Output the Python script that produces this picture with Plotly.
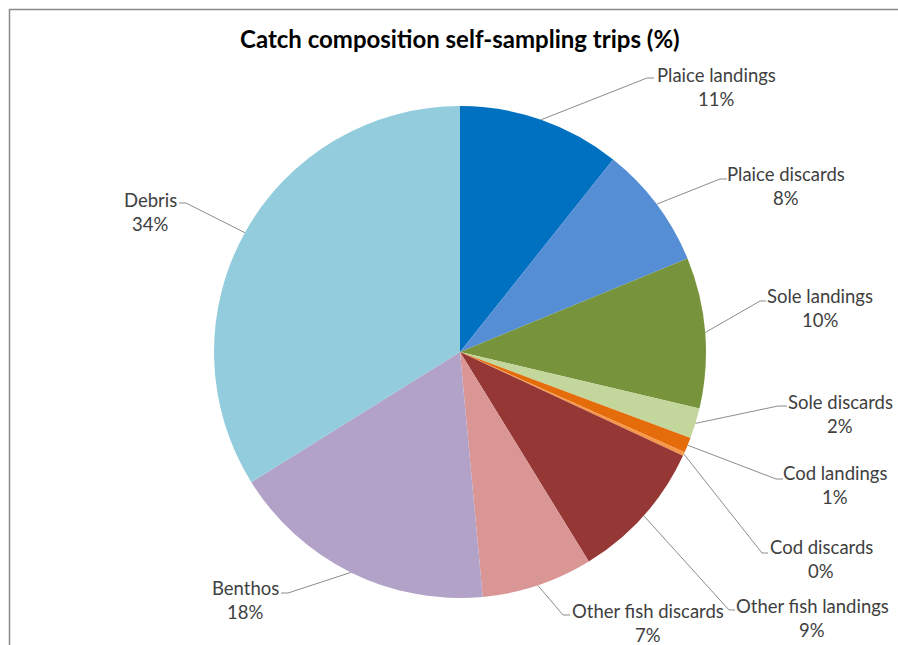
import math
import plotly.graph_objects as go

# ---- data ----
categories = ["Plaice landings", "Plaice discards", "Sole landings", "Sole discards",
              "Cod landings", "Cod discards", "Other fish landings", "Other fish discards",
              "Benthos", "Debris"]
values = [10.7, 8.1, 9.9, 2.0, 1.0, 0.25, 9.3, 7.3, 17.6, 33.9]
colors = ["#0070C0", "#558ED5", "#77933C", "#C3D69B", "#E46C0A", "#F79646",
          "#953735", "#D99694", "#B3A2C7", "#93CDDD"]
title_text = "Catch composition self-sampling trips (%)"

# ---- layout (page pixel geometry) ----
PW, PH = 898, 645      # page size
W, H = PW, PH
CX, CY, R = 460, 352, 246
# label text centre x, first-line centre y
label_x = [716, 786, 820, 840, 835, 821, 812, 648, 245, 150]
label_y = [75, 174, 296, 402, 473, 547, 606, 611, 588, 200]
# leader elbow and end points
elbow = [(647, 78), (720, 179), (760, 301), (778, 406), (776, 479), (762, 553),
         (729, 610), (563, 615), (288, 593), (186, 203)]
lead_end = [(654, 78), (727, 179), (766, 301), (787, 406), (783, 479), (768, 553),
            (735, 610), (570, 615), (281, 593), (179, 203)]
LINE_GAP = 24
LABEL_FONT = dict(family="Lato", size=18.5, color="#404040")

fig = go.Figure()
fig.add_trace(go.Pie(
    labels=categories, values=values, sort=False, direction="clockwise", rotation=0,
    marker=dict(colors=colors, line=dict(width=0)),
    textinfo="none", showlegend=False,
    domain=dict(x=[(CX - R) / W, (CX + R) / W],
                y=[(PH - CY - R) / H, (PH - CY + R) / H]),
    hovertemplate="%{label}: %{percent}<extra></extra>",
))

total = sum(values)
cum = 0.0
annotations = []
for i, (name, v) in enumerate(zip(categories, values)):
    mid = (cum + v / 2) / total
    cum += v
    ang = mid * 2 * math.pi
    sx = CX + R * math.sin(ang)
    sy = CY - R * math.cos(ang)
    ex, ey = elbow[i]
    tx, ty = lead_end[i]
    fig.add_trace(go.Scatter(x=[sx, ex, tx], y=[sy, ey, ty], mode="lines",
                             line=dict(color="#8C8C8C", width=1), hoverinfo="skip",
                             showlegend=False, xaxis="x", yaxis="y"))
    pct = round(v / total * 100)
    annotations.append(dict(x=label_x[i], y=label_y[i], xref="x", yref="y", text=name,
                            showarrow=False, xanchor="center", yanchor="middle",
                            font=LABEL_FONT))
    annotations.append(dict(x=label_x[i], y=label_y[i] + LINE_GAP, xref="x", yref="y",
                            text=f"{pct}%", showarrow=False, xanchor="center",
                            yanchor="middle", font=LABEL_FONT))

annotations.append(dict(x=460, y=38, xref="x", yref="y", text=f"<b>{title_text}</b>",
                        showarrow=False, xanchor="center", yanchor="middle",
                        font=dict(family="Lato", size=24, color="#000000")))

fig.update_layout(
    width=W, height=H, margin=dict(l=0, r=0, t=0, b=0),
    paper_bgcolor="white", plot_bgcolor="rgba(0,0,0,0)",
    xaxis=dict(range=[0, PW], visible=False, fixedrange=True, domain=[0, 1]),
    yaxis=dict(range=[PH, 0], visible=False, fixedrange=True, domain=[0, 1]),
    annotations=annotations,
    shapes=[dict(type="path", xref="x", yref="y",
                 path=f"M 9.5,{PH + 20} L 9.5,9.5 L {PW + 20},9.5",
                 line=dict(color="#8A8A8A", width=1.5), layer="above")],
)

fig.write_html("out.html",
               config={"displayModeBar": False},
               post_script="document.body.style.margin='0';"
                           "document.body.style.overflow='hidden';"
                           "document.documentElement.style.overflow='hidden';")
